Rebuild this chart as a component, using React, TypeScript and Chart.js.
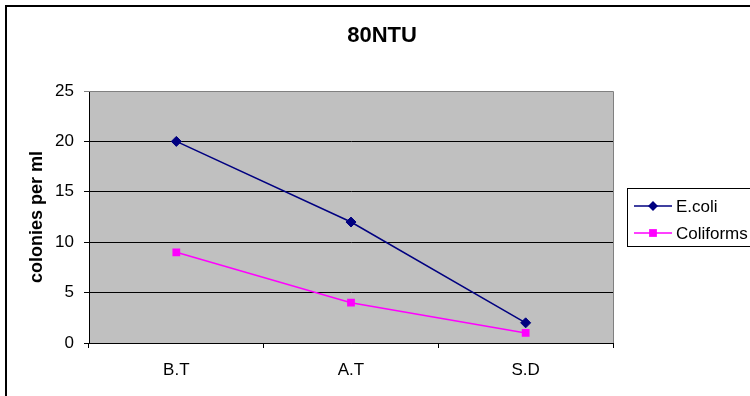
import React, { useEffect, useRef } from "react";
import { Chart, registerables } from "chart.js";

Chart.register(...registerables);

const categories = ["B.T", "A.T", "S.D"];
const ecoli = [20, 12, 2];
const coliforms = [9, 4, 1];
const yTicks = [0, 5, 10, 15, 20, 25];
const chartTitle = "80NTU";
const yAxisTitle = "colonies per ml";

const FONT = "'Liberation Sans', Arial, sans-serif";
const PLOT_BG = "#C0C0C0";
const LEGEND_ROWS = [206, 233];

function drawMarker(ctx: CanvasRenderingContext2D, style: string, r: number, x: number, y: number) {
  ctx.beginPath();
  if (style === "rectRot") {
    ctx.moveTo(x, y - r);
    ctx.lineTo(x + r, y);
    ctx.lineTo(x, y + r);
    ctx.lineTo(x - r, y);
  } else {
    const s = Math.SQRT1_2 * r;
    ctx.rect(x - s, y - s, 2 * s, 2 * s);
  }
  ctx.closePath();
  ctx.fill();
}

// Grey plot background, grey top/right frame, outer border, title and legend
const decorations = {
  id: "decorations",
  beforeDraw(chart: any) {
    const { ctx, chartArea: a } = chart;
    ctx.save();
    ctx.fillStyle = "#ffffff";
    ctx.fillRect(0, 0, chart.width, chart.height);
    ctx.fillStyle = PLOT_BG;
    ctx.fillRect(a.left, a.top, a.right - a.left, a.bottom - a.top);
    ctx.restore();
  },
  beforeDatasetsDraw(chart: any) {
    const { ctx, chartArea: a } = chart;
    ctx.save();
    ctx.strokeStyle = "#808080";
    ctx.lineWidth = 1;
    ctx.beginPath();
    ctx.moveTo(a.left, a.top + 0.5);
    ctx.lineTo(a.right + 0.5, a.top + 0.5);
    ctx.lineTo(a.right + 0.5, a.bottom);
    ctx.stroke();
    ctx.restore();
  },
  afterDraw(chart: any) {
    const { ctx } = chart;
    ctx.save();
    // outer chart frame
    ctx.strokeStyle = "#000";
    ctx.lineWidth = 2;
    ctx.beginPath();
    ctx.moveTo(6, chart.height + 2);
    ctx.lineTo(6, 6);
    ctx.lineTo(chart.width + 2, 6);
    ctx.stroke();

    // title
    ctx.fillStyle = "#000";
    ctx.font = `bold 22px ${FONT}`;
    ctx.textAlign = "center";
    ctx.textBaseline = "middle";
    ctx.fillText(chartTitle, 382, 36);

    // legend box
    const box = { left: 627.5, top: 188.5, bottom: 246.5 };
    ctx.lineWidth = 1;
    ctx.strokeStyle = "#000";
    ctx.strokeRect(box.left, box.top, chart.width + 10 - box.left, box.bottom - box.top);

    // legend entries
    ctx.font = `17px ${FONT}`;
    ctx.textAlign = "left";
    chart.data.datasets.forEach((ds: any, i: number) => {
      const y = LEGEND_ROWS[i];
      ctx.strokeStyle = ds.borderColor;
      ctx.lineWidth = ds.borderWidth;
      ctx.beginPath();
      ctx.moveTo(634, y);
      ctx.lineTo(672, y);
      ctx.stroke();
      ctx.fillStyle = ds.pointBackgroundColor;
      drawMarker(ctx, ds.pointStyle, ds.pointRadius, 653, y);
      ctx.fillStyle = "#000";
      ctx.fillText(ds.label, 676, y + 1);
    });
    ctx.restore();
  },
};

export default function App() {
  const canvasRef = useRef<HTMLCanvasElement | null>(null);

  useEffect(() => {
    if (!canvasRef.current) return;
    const chart = new Chart(canvasRef.current, {
      type: "line",
      data: {
        labels: categories,
        datasets: [
          {
            label: "E.coli",
            data: ecoli,
            borderColor: "#000080",
            backgroundColor: "#000080",
            pointBackgroundColor: "#000080",
            pointBorderColor: "#000080",
            borderWidth: 1.5,
            pointStyle: "rectRot",
            pointRadius: 5,
            pointBorderWidth: 1,
            tension: 0,
          },
          {
            label: "Coliforms",
            data: coliforms,
            borderColor: "#FF00FF",
            backgroundColor: "#FF00FF",
            pointBackgroundColor: "#FF00FF",
            pointBorderColor: "#FF00FF",
            borderWidth: 1.5,
            pointStyle: "rect",
            pointRadius: 5.5,
            pointBorderWidth: 0,
            tension: 0,
          },
        ],
      },
      options: {
        animation: false,
        responsive: false,
        devicePixelRatio: 1,
        layout: { padding: { left: 0, top: 91, right: 137, bottom: 0 } },
        plugins: {
          legend: { display: false },
          title: { display: false },
          tooltip: { enabled: false },
        },
        scales: {
          x: {
            type: "category",
            offset: true,
            grid: {
              offset: true,
              drawOnChartArea: false,
              drawTicks: true,
              tickLength: 5,
              color: "#000",
            },
            border: { display: true, color: "#000", width: 1 },
            ticks: {
              color: "#000",
              font: { family: FONT, size: 17 },
              padding: 12,
              maxRotation: 0,
            },
            afterFit(scale: any) {
              scale.height = 53;
            },
          },
          y: {
            min: 0,
            max: 25,
            afterBuildTicks(scale: any) {
              scale.ticks = yTicks.map((v) => ({ value: v }));
            },
            grid: {
              color: (c: any) => (c.tick && c.tick.value === 25 ? "#808080" : "#000"),
              lineWidth: 1,
              drawTicks: true,
              tickLength: 5,
            },
            border: { display: true, color: "#000", width: 1 },
            ticks: {
              color: "#000",
              font: { family: FONT, size: 17 },
              padding: 10,
            },
            title: {
              display: true,
              text: yAxisTitle,
              color: "#000",
              font: { family: FONT, size: 18, weight: "bold" },
              padding: { top: 26, bottom: 0 },
            },
            afterFit(scale: any) {
              scale.width = 89;
            },
          },
        },
      },
      plugins: [decorations],
    });
    return () => chart.destroy();
  }, []);

  return (
    <div style={{ position: "fixed", left: 0, top: 0, width: 750, height: 396, background: "#fff" }}>
      <canvas ref={canvasRef} width={750} height={396} />
    </div>
  );
}
